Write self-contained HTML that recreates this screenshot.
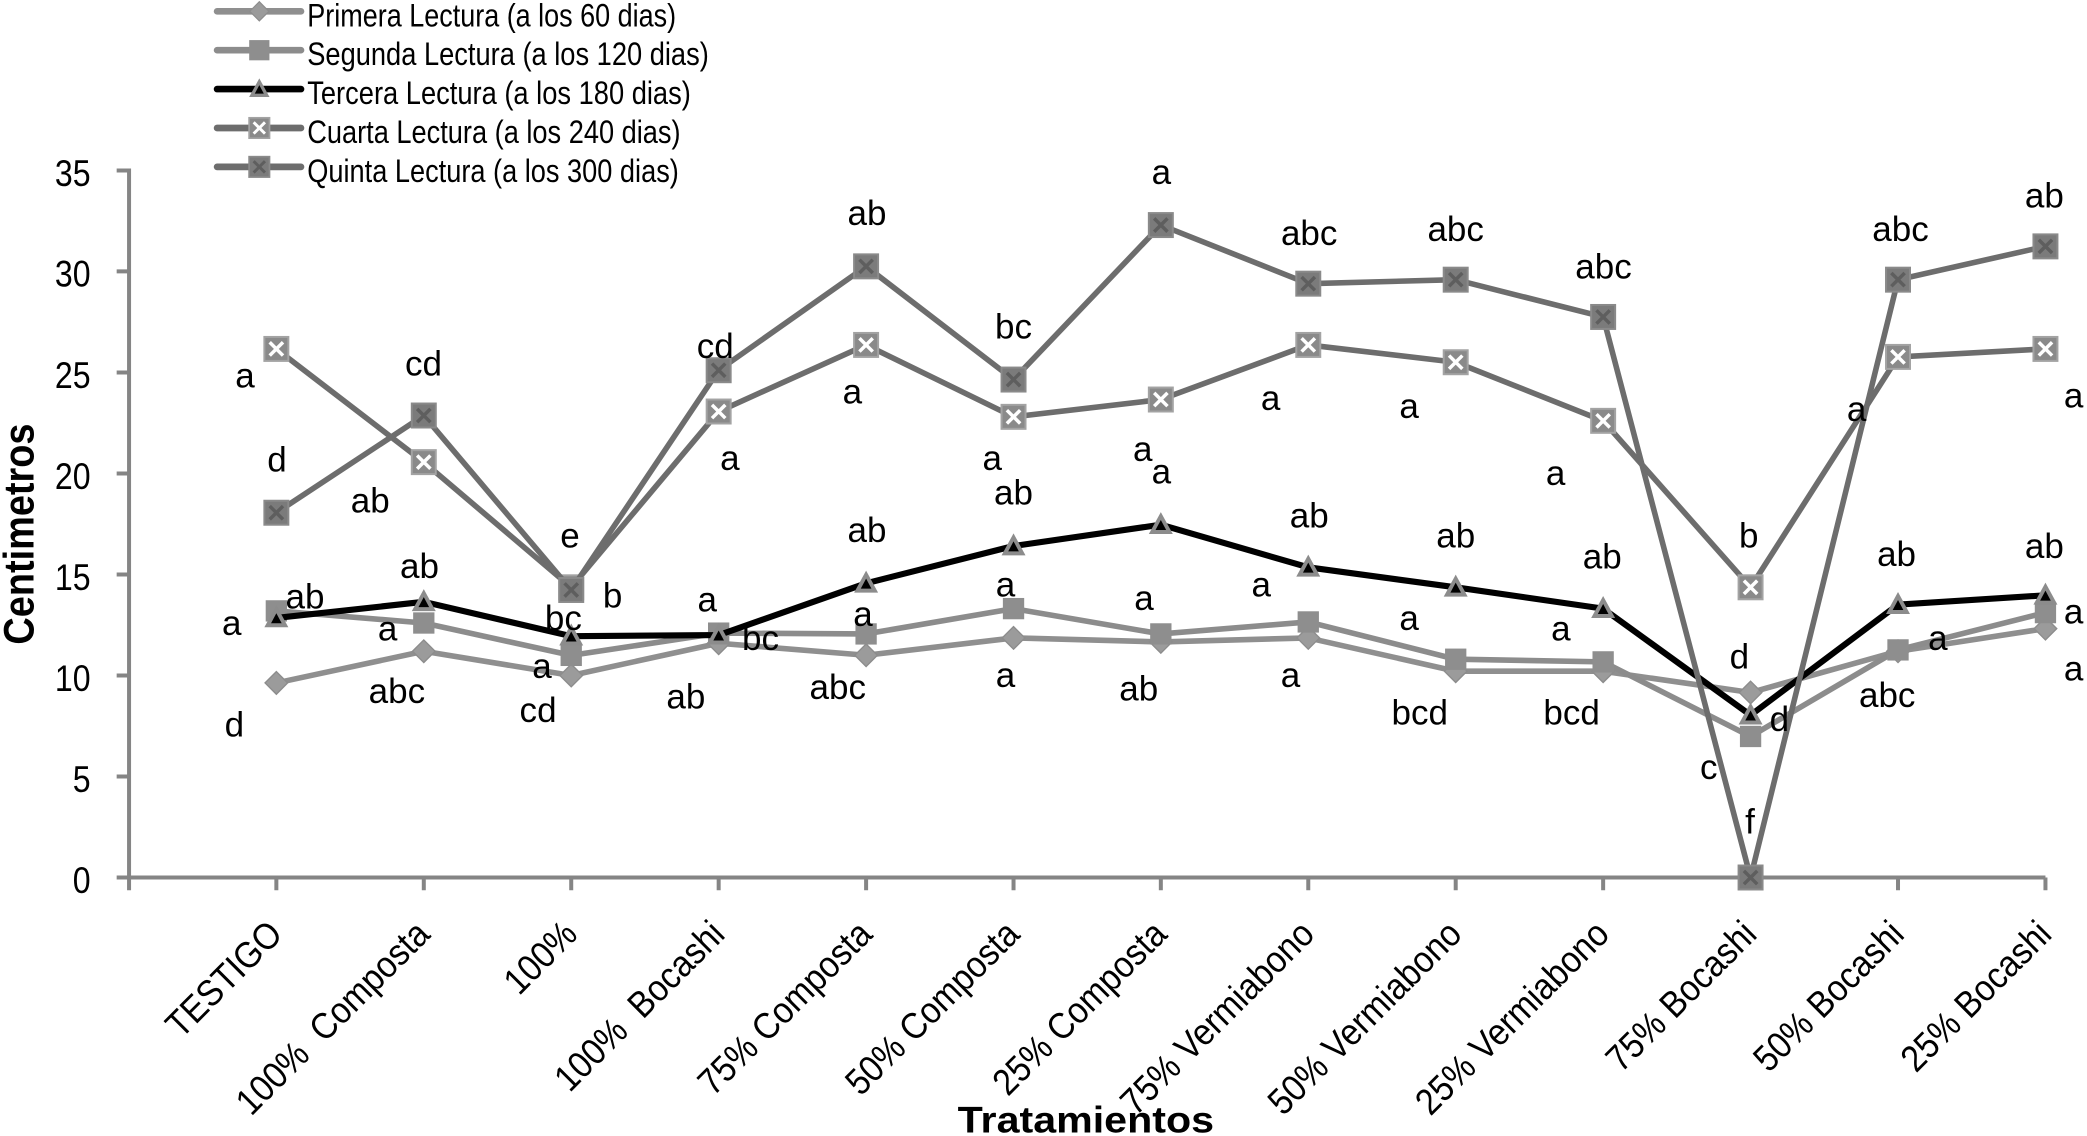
<!DOCTYPE html>
<html><head><meta charset="utf-8"><style>
html,body{margin:0;padding:0;background:#fff;}
svg{display:block;}
text{font-family:"Liberation Sans",Arial,sans-serif;fill:#000;}
.ann{font-size:26.3px;text-anchor:middle;}
.yt{font-size:27.8px;text-anchor:end;}
.xl{font-size:27.8px;text-anchor:end;}
.lg{font-size:24.4px;}
</style></head><body>
<svg width="2087" height="1136" viewBox="0 0 1567 853" preserveAspectRatio="none" xmlns="http://www.w3.org/2000/svg">
<defs>
<g id="pri"><polygon points="0,-8.5 8.5,0 0,8.5 -8.5,0" fill="#9b9b9b" stroke="#8c8c8c" stroke-width="1"/></g>
<g id="seg"><rect x="-8" y="-8" width="16" height="16" fill="#8e8e8e"/></g>
<g id="ter"><polygon points="0,-9.5 9,7 -9,7" fill="#8c8c8c"/><polygon points="0,-3.5 4,4 -4,4" fill="#000"/></g>
<g id="cua"><rect x="-9" y="-9" width="18" height="18" fill="#8a8a8a" stroke="#a3a3a3" stroke-width="1.5"/><path d="M-5,-5L5,5M5,-5L-5,5" stroke="#fff" stroke-width="2.6"/></g>
<g id="qui"><rect x="-9" y="-9" width="18" height="18" fill="#7b7b7b" stroke="#8a8a8a" stroke-width="1.5"/><path d="M-5,-5L5,5M5,-5L-5,5" stroke="#5e5e5e" stroke-width="2.6"/></g>
</defs>

<!-- Legend -->
<g stroke-linecap="round">
<line x1="163" y1="8.5" x2="226" y2="8.5" stroke="#8f8f8f" stroke-width="5"/>
<line x1="163" y1="37.7" x2="226" y2="37.7" stroke="#8c8c8c" stroke-width="5"/>
<line x1="163" y1="66.9" x2="226" y2="66.9" stroke="#000" stroke-width="5"/>
<line x1="163" y1="96.1" x2="226" y2="96.1" stroke="#6d6d6d" stroke-width="5"/>
<line x1="163" y1="125.3" x2="226" y2="125.3" stroke="#6d6d6d" stroke-width="5"/>
</g>
<use href="#pri" transform="translate(194.7,8.5) scale(0.85)"/>
<use href="#seg" transform="translate(194.7,37.7) scale(0.95)"/>
<use href="#ter" transform="translate(194.7,66.9) scale(0.85)"/>
<use href="#cua" transform="translate(194.7,96.1) scale(0.85)"/>
<use href="#qui" transform="translate(194.7,125.3) scale(0.85)"/>
<text class="lg" x="230.7" y="19.8" textLength="277" lengthAdjust="spacingAndGlyphs">Primera Lectura (a los 60 dias)</text>
<text class="lg" x="230.7" y="49" textLength="301.5" lengthAdjust="spacingAndGlyphs">Segunda Lectura (a los 120 dias)</text>
<text class="lg" x="230.7" y="78.2" textLength="288" lengthAdjust="spacingAndGlyphs">Tercera Lectura (a los 180 dias)</text>
<text class="lg" x="230.7" y="107.4" textLength="280.3" lengthAdjust="spacingAndGlyphs">Cuarta Lectura (a los 240 dias)</text>
<text class="lg" x="230.7" y="136.6" textLength="279" lengthAdjust="spacingAndGlyphs">Quinta Lectura (a los 300 dias)</text>

<!-- Axes -->
<g stroke="#858585" stroke-width="3" fill="none">
<line x1="96.9" y1="126.5" x2="96.9" y2="660.4"/>
<line x1="95.4" y1="658.9" x2="1535.8" y2="658.9"/>
<path d="M87.6,128H96.9M87.6,203.8H96.9M87.6,279.7H96.9M87.6,355.5H96.9M87.6,431.4H96.9M87.6,507.2H96.9M87.6,583.1H96.9M87.6,658.9H96.9"/>
<path d="M96.9,658.9V668.5M207.5,658.9V668.5M318.2,658.9V668.5M428.9,658.9V668.5M539.6,658.9V668.5M650.3,658.9V668.5M761,658.9V668.5M871.6,658.9V668.5M982.3,658.9V668.5M1093,658.9V668.5M1203.7,658.9V668.5M1314.4,658.9V668.5M1425.1,658.9V668.5M1535.8,658.9V668.5"/>
</g>

<!-- Y tick labels -->
<text class="yt" x="68" y="139.5" textLength="26.8" lengthAdjust="spacingAndGlyphs">35</text>
<text class="yt" x="68" y="215.3" textLength="26.8" lengthAdjust="spacingAndGlyphs">30</text>
<text class="yt" x="68" y="291.2" textLength="26.8" lengthAdjust="spacingAndGlyphs">25</text>
<text class="yt" x="68" y="367" textLength="26.8" lengthAdjust="spacingAndGlyphs">20</text>
<text class="yt" x="68" y="442.9" textLength="26.8" lengthAdjust="spacingAndGlyphs">15</text>
<text class="yt" x="68" y="518.7" textLength="26.8" lengthAdjust="spacingAndGlyphs">10</text>
<text class="yt" x="68" y="594.6" textLength="13.4" lengthAdjust="spacingAndGlyphs">5</text>
<text class="yt" x="68" y="670.4" textLength="13.4" lengthAdjust="spacingAndGlyphs">0</text>

<!-- Axis titles -->
<text x="0" y="0" transform="translate(25,401) rotate(-90)" text-anchor="middle" font-weight="bold" font-size="32.3" textLength="166" lengthAdjust="spacingAndGlyphs">Centimetros</text>
<text x="815.3" y="850.5" text-anchor="middle" font-weight="bold" font-size="28" textLength="192.5" lengthAdjust="spacingAndGlyphs">Tratamientos</text>

<!-- Category labels -->
<g class="cats">
<text class="xl" transform="translate(213.5,703) rotate(-45)" textLength="109.8" lengthAdjust="spacingAndGlyphs">TESTIGO</text>
<text class="xl" transform="translate(324.2,703) rotate(-45)" textLength="191.8" lengthAdjust="spacingAndGlyphs" xml:space="preserve">100%  Composta</text>
<text class="xl" transform="translate(434.9,703) rotate(-45)" textLength="63.9" lengthAdjust="spacingAndGlyphs">100%</text>
<text class="xl" transform="translate(545.6,703) rotate(-45)" textLength="166.8" lengthAdjust="spacingAndGlyphs" xml:space="preserve">100%  Bocashi</text>
<text class="xl" transform="translate(656.3,703) rotate(-45)" textLength="170.9" lengthAdjust="spacingAndGlyphs">75% Composta</text>
<text class="xl" transform="translate(767,703) rotate(-45)" textLength="170.9" lengthAdjust="spacingAndGlyphs">50% Composta</text>
<text class="xl" transform="translate(877.6,703) rotate(-45)" textLength="170.9" lengthAdjust="spacingAndGlyphs">25% Composta</text>
<text class="xl" transform="translate(988.3,703) rotate(-45)" textLength="191.8" lengthAdjust="spacingAndGlyphs">75% Vermiabono</text>
<text class="xl" transform="translate(1099,703) rotate(-45)" textLength="191.8" lengthAdjust="spacingAndGlyphs">50% Vermiabono</text>
<text class="xl" transform="translate(1209.7,703) rotate(-45)" textLength="191.8" lengthAdjust="spacingAndGlyphs">25% Vermiabono</text>
<text class="xl" transform="translate(1320.4,703) rotate(-45)" textLength="145.9" lengthAdjust="spacingAndGlyphs">75% Bocashi</text>
<text class="xl" transform="translate(1431.1,703) rotate(-45)" textLength="145.9" lengthAdjust="spacingAndGlyphs">50% Bocashi</text>
<text class="xl" transform="translate(1541.8,703) rotate(-45)" textLength="145.9" lengthAdjust="spacingAndGlyphs">25% Bocashi</text>
</g>

<!-- Series -->
<g fill="none" stroke-linejoin="round">
<polyline stroke="#8f8f8f" stroke-width="4.2" points="207.5,512.8 318.2,489 428.9,507.2 539.6,483 650.3,492 761,479 871.6,482 982.3,479 1093,504 1203.7,504 1314.4,520 1425.1,489 1535.8,472"/>
</g>
<g>
<use href="#pri" x="207.5" y="512.8"/><use href="#pri" x="318.2" y="489"/><use href="#pri" x="428.9" y="507.2"/><use href="#pri" x="539.6" y="483"/><use href="#pri" x="650.3" y="492"/><use href="#pri" x="761" y="479"/><use href="#pri" x="871.6" y="482"/><use href="#pri" x="982.3" y="479"/><use href="#pri" x="1093" y="504"/><use href="#pri" x="1203.7" y="504"/><use href="#pri" x="1314.4" y="520"/><use href="#pri" x="1425.1" y="489"/><use href="#pri" x="1535.8" y="472"/>
</g>
<g fill="none" stroke-linejoin="round">
<polyline stroke="#8c8c8c" stroke-width="4.2" points="207.5,458.7 318.2,467.8 428.9,492.1 539.6,475.4 650.3,476 761,457 871.6,476 982.3,467 1093,495 1203.7,497 1314.4,553 1425.1,488 1535.8,460"/>
</g>
<g>
<use href="#seg" x="207.5" y="458.7"/><use href="#seg" x="318.2" y="467.8"/><use href="#seg" x="428.9" y="492.1"/><use href="#seg" x="539.6" y="475.4"/><use href="#seg" x="650.3" y="476"/><use href="#seg" x="761" y="457"/><use href="#seg" x="871.6" y="476"/><use href="#seg" x="982.3" y="467"/><use href="#seg" x="1093" y="495"/><use href="#seg" x="1203.7" y="497"/><use href="#seg" x="1314.4" y="553"/><use href="#seg" x="1425.1" y="488"/><use href="#seg" x="1535.8" y="460"/>
</g>
<g fill="none" stroke-linejoin="round">
<polyline stroke="#000" stroke-width="4.6" points="207.5,464 318.2,451.9 428.9,477.7 539.6,476.9 650.3,438 761,410 871.6,394 982.3,426 1093,441 1203.7,457 1314.4,537 1425.1,454 1535.8,447"/>
</g>
<g>
<use href="#ter" x="207.5" y="464"/><use href="#ter" x="318.2" y="451.9"/><use href="#ter" x="428.9" y="477.7"/><use href="#ter" x="539.6" y="476.9"/><use href="#ter" x="650.3" y="438"/><use href="#ter" x="761" y="410"/><use href="#ter" x="871.6" y="394"/><use href="#ter" x="982.3" y="426"/><use href="#ter" x="1093" y="441"/><use href="#ter" x="1203.7" y="457"/><use href="#ter" x="1314.4" y="537"/><use href="#ter" x="1425.1" y="454"/><use href="#ter" x="1535.8" y="447"/>
</g>
<g fill="none" stroke-linejoin="round">
<polyline stroke="#6d6d6d" stroke-width="4.2" points="207.5,262 318.2,347 428.9,441 539.6,309 650.3,259 761,313 871.6,300 982.3,259 1093,272 1203.7,316 1314.4,441 1425.1,268 1535.8,262"/>
</g>
<g>
<use href="#cua" x="207.5" y="262"/><use href="#cua" x="318.2" y="347"/><use href="#cua" x="428.9" y="441"/><use href="#cua" x="539.6" y="309"/><use href="#cua" x="650.3" y="259"/><use href="#cua" x="761" y="313"/><use href="#cua" x="871.6" y="300"/><use href="#cua" x="982.3" y="259"/><use href="#cua" x="1093" y="272"/><use href="#cua" x="1203.7" y="316"/><use href="#cua" x="1314.4" y="441"/><use href="#cua" x="1425.1" y="268"/><use href="#cua" x="1535.8" y="262"/>
</g>
<g fill="none" stroke-linejoin="round">
<polyline stroke="#6d6d6d" stroke-width="4.2" points="207.5,385 318.2,312 428.9,443 539.6,278 650.3,200 761,285 871.6,169 982.3,213 1093,210 1203.7,238 1314.4,658.9 1425.1,210 1535.8,185"/>
</g>
<g>
<use href="#qui" x="207.5" y="385"/><use href="#qui" x="318.2" y="312"/><use href="#qui" x="428.9" y="443"/><use href="#qui" x="539.6" y="278"/><use href="#qui" x="650.3" y="200"/><use href="#qui" x="761" y="285"/><use href="#qui" x="871.6" y="169"/><use href="#qui" x="982.3" y="213"/><use href="#qui" x="1093" y="210"/><use href="#qui" x="1203.7" y="238"/><use href="#qui" x="1314.4" y="658.9"/><use href="#qui" x="1425.1" y="210"/><use href="#qui" x="1535.8" y="185"/>
</g>

<!-- Annotations -->
<g class="ann">
<text class="ann" x="184" y="291">a</text>
<text class="ann" x="318" y="282">cd</text>
<text class="ann" x="208" y="354">d</text>
<text class="ann" x="278" y="385">ab</text>
<text class="ann" x="428" y="411">e</text>
<text class="ann" x="460" y="456">b</text>
<text class="ann" x="229" y="457">ab</text>
<text class="ann" x="174" y="477">a</text>
<text class="ann" x="315" y="434">ab</text>
<text class="ann" x="291" y="481">a</text>
<text class="ann" x="423" y="473">bc</text>
<text class="ann" x="407" y="509">a</text>
<text class="ann" x="531" y="459">a</text>
<text class="ann" x="571" y="488">bc</text>
<text class="ann" x="298" y="528">abc</text>
<text class="ann" x="176" y="553">d</text>
<text class="ann" x="404" y="542">cd</text>
<text class="ann" x="515" y="532">ab</text>
<text class="ann" x="537" y="269">cd</text>
<text class="ann" x="548" y="353">a</text>
<text class="ann" x="651" y="169">ab</text>
<text class="ann" x="640" y="303">a</text>
<text class="ann" x="651" y="407">ab</text>
<text class="ann" x="648" y="470">a</text>
<text class="ann" x="629" y="525">abc</text>
<text class="ann" x="761" y="254">bc</text>
<text class="ann" x="745" y="353">a</text>
<text class="ann" x="761" y="379">ab</text>
<text class="ann" x="755" y="448">a</text>
<text class="ann" x="755" y="516">a</text>
<text class="ann" x="872" y="138">a</text>
<text class="ann" x="858" y="346">a</text>
<text class="ann" x="872" y="363">a</text>
<text class="ann" x="859" y="458">a</text>
<text class="ann" x="855" y="526">ab</text>
<text class="ann" x="983" y="184">abc</text>
<text class="ann" x="954" y="308">a</text>
<text class="ann" x="983" y="396">ab</text>
<text class="ann" x="947" y="448">a</text>
<text class="ann" x="969" y="516">a</text>
<text class="ann" x="1093" y="181">abc</text>
<text class="ann" x="1058" y="314">a</text>
<text class="ann" x="1093" y="411">ab</text>
<text class="ann" x="1058" y="473">a</text>
<text class="ann" x="1066" y="544">bcd</text>
<text class="ann" x="1204" y="209">abc</text>
<text class="ann" x="1168" y="364">a</text>
<text class="ann" x="1203" y="427">ab</text>
<text class="ann" x="1172" y="481">a</text>
<text class="ann" x="1180" y="544">bcd</text>
<text class="ann" x="1313" y="411">b</text>
<text class="ann" x="1306" y="502">d</text>
<text class="ann" x="1336" y="549">d</text>
<text class="ann" x="1283" y="585">c</text>
<text class="ann" x="1314" y="626">f</text>
<text class="ann" x="1427" y="181">abc</text>
<text class="ann" x="1394" y="316">a</text>
<text class="ann" x="1424" y="425">ab</text>
<text class="ann" x="1455" y="488">a</text>
<text class="ann" x="1417" y="531">abc</text>
<text class="ann" x="1535" y="156">ab</text>
<text class="ann" x="1557" y="306">a</text>
<text class="ann" x="1535" y="419">ab</text>
<text class="ann" x="1557" y="468">a</text>
<text class="ann" x="1557" y="511">a</text>
</g>
</svg>
</body></html>
